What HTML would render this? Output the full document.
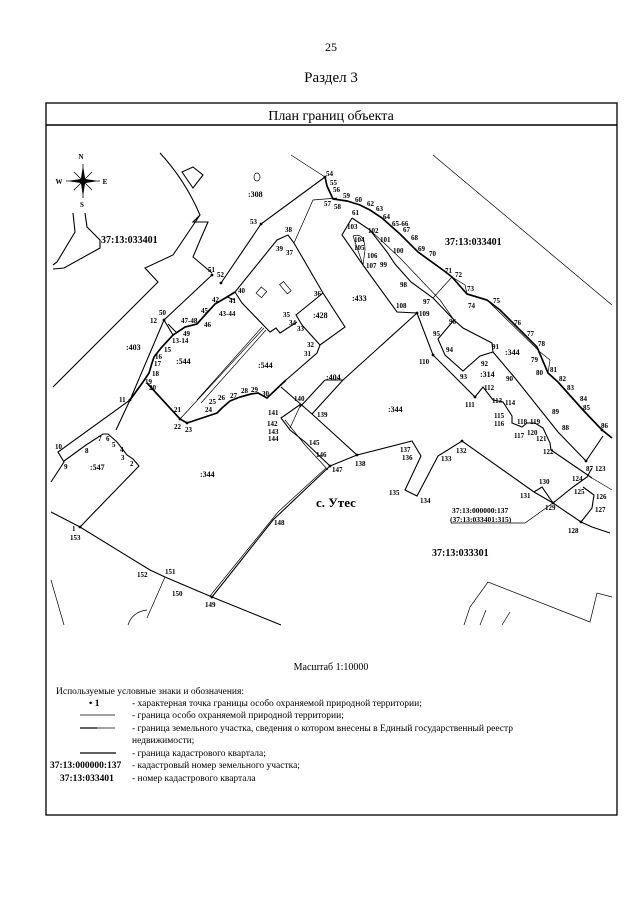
<!DOCTYPE html>
<html><head><meta charset="utf-8"><style>
html,body{margin:0;padding:0;background:#fff;}
svg{display:block;}
text{font-family:"Liberation Serif",serif;fill:#000;}
.p{font-size:7px;font-weight:bold;}
.l{font-size:8px;font-weight:bold;}
.t{stroke:#000;stroke-width:1.7;fill:none;}
.m{stroke:#000;stroke-width:1.1;fill:none;}
.n{stroke:#000;stroke-width:0.7;fill:none;}
</style></head><body>
<svg width="640" height="905" viewBox="0 0 640 905" xmlns="http://www.w3.org/2000/svg">
<text x="331" y="51" font-size="12" text-anchor="middle">25</text>
<text x="331" y="82" font-size="15" text-anchor="middle">Раздел 3</text>
<rect x="46" y="103" width="571" height="712" fill="none" stroke="#000" stroke-width="1.3"/>
<line x1="46" y1="125" x2="617" y2="125" stroke="#000" stroke-width="1.5"/>
<text x="331" y="120" font-size="14" text-anchor="middle">План границ объекта</text>

<!-- compass -->
<g stroke="#000" stroke-width="0.8">
<line x1="83" y1="164" x2="83" y2="198"/><line x1="66" y1="181" x2="100" y2="181"/>
<line x1="74" y1="172" x2="92" y2="190"/><line x1="92" y1="172" x2="74" y2="190"/>
<polygon points="83,168 85,181 83,194 81,181" fill="#000"/>
<polygon points="70,181 83,179 96,181 83,183" fill="#000"/>
</g>
<text x="81" y="159" font-size="7" font-weight="bold" text-anchor="middle">N</text>
<text x="59" y="184" font-size="7" font-weight="bold" text-anchor="middle">W</text>
<text x="105" y="184" font-size="7" font-weight="bold" text-anchor="middle">E</text>
<text x="82" y="207" font-size="7" font-weight="bold" text-anchor="middle">S</text>

<!-- left river -->
<path class="m" d="M73,213 L75,232 L57,262 L53,265 M85,213 L87,227 L100,240 L100,248 L64,268 L53,269"/>
<!-- river boundary top-left -->
<path class="m" d="M160,153 Q185,180 200,215 L193,222 L208,222 Q200,240 193,257 L212,273 M200,215 L173,255 L145,268 L158,282 L53,387"/>
<polygon class="m" points="182,172 193,167 203,175 193,188"/>
<ellipse cx="257" cy="177" rx="3" ry="4" class="n"/>
<!-- 54 to upper left -->
<path class="n" d="M291,155 L325,177"/>
<!-- 50-51 -->
<path class="m" d="M164,320 L212,275 M221,283 L261,224 L325,177"/>
<!-- 12 to 11 and left -->
<path class="m" d="M164,320 L130,400 L58,452 L64,462 L51,482 M130,400 L116,430"/>
<path class="m" d="M164,320 L173,335 M168,324 L176,332"/>
<!-- zone boundary west part -->
<path class="t" d="M235,292 L227,297 L215,304 L205,315 L197,324 L185,327 L173,335 L161,348 L154,357 L152,363 L149,373 L143,382 L130,400"/>
<path class="t" d="M147,383 L180,419 L187,423 L217,413 L222,408 L230,401 L240,397 L251,394 L258,393 L267,398 L286,380"/>
<path class="m" d="M235,292 L277,240 L288,235 L294,243 L323,293 L345,327 L320,345 L302,325 L296,315 L323,293"/>
<path class="m" d="M235,292 L242,303 L270,332 L276,328 L280,333 L297,322 M227,297 L235,300"/>
<path class="m" d="M320,345 L317,353 L286,380"/>
<path class="n" d="M262,327 L197,400 M266,330 L201,403 M264,328 L180,419"/>
<rect x="258" y="288" width="7" height="8" transform="rotate(40 261 292)" class="n"/>
<rect x="283" y="282" width="5" height="12" transform="rotate(-40 285 288)" class="n"/>
<!-- :308 parcel -->
<path class="n" d="M337,198 L313,200 L294,243"/>
<!-- zone boundary east -->
<path class="t" d="M325,177 L327,186 L333,199 L347,201 L360,205 L370,210 L382,218 L400,234 L418,252 L443,270 L452,277 L467,294 L487,300 L500,310 L513,323 L537,347 L548,373 L558,382 L583,410 L602,430 L612,438"/>
<path class="n" d="M452,277 L465,285 L467,294 M487,300 L540,352 L550,360 L548,373"/>
<path class="n" d="M433,155 L612,305"/>
<!-- 433 and inner -->
<path class="m" d="M352,218 L342,235 L363,265 L397,312 L417,313 L433,355 L475,397 L483,387 L493,400 L503,402 L512,416 L512,423 L522,427 L527,423 L535,423 L543,428 L550,443 L551,450 L592,478"/>
<path class="m" d="M352,218 L370,230 L387,252 L395,264 L411,282 L433,298 L454,320 L463,328 L492,343 L493,352 L515,378 L558,432 L586,461 L603,436"/>
<path class="n" d="M353,236 L363,265 M353,236 Q365,232 365,250 L363,265 M370,230 L400,258 L440,300 L454,320"/>
<path class="n" d="M433,298 L452,277"/>
<path class="m" d="M454,320 L438,339 L445,355 L463,371 L480,356 L493,352"/>
<path class="m" d="M417,313 L343,380 L312,414"/>
<path class="m" d="M325,380 L343,380 M325,380 L300,407"/>
<!-- 344 center boundaries -->
<path class="m" d="M281,387 L312,414 L357,455 L412,441 L421,456 L405,490 L417,496 L438,456 L462,441 L534,492 L553,503 L581,522 L592,527 L610,533"/>
<path class="m" d="M553,503 L542,487 L534,492 M553,503 L573,487 L587,477 L592,468 M583,487 L594,495 L592,508 L581,522"/>
<path class="n" d="M553,503 L525,523 L451,523 M592,478 L612,490"/>
<path class="m" d="M301,404 L281,418 L290,430 L305,442 L330,466 L357,455"/>
<path class="n" d="M301,404 L290,428 M285,420 L305,445 L328,470"/>
<path class="m" d="M330,466 L273,520 L212,597"/>
<path class="n" d="M326,468 L278,512 L210,596"/>
<!-- parcel 547 -->
<path class="m" d="M64,461 L86,445 L103,434 L108,434 L117,442 L127,455 L133,459 L139,466 L80,527"/>
<!-- bottom line -->
<path class="m" d="M51,512 L80,527 L150,570 L165,577 L179,583 L212,597 L281,625"/>
<path class="n" d="M165,577 L147,618 M51,580 L64,625 M128,625 Q132,612 147,610"/>
<path class="n" d="M464,625 L470,607 L488,582 L590,622 L597,593 L612,597 M480,625 L486,610 M502,625 L510,612"/>

<!-- points -->
<g fill="#000">
<circle cx="325" cy="177" r="1.4"/><circle cx="261" cy="224" r="1.4"/><circle cx="212" cy="275" r="1.4"/><circle cx="221" cy="283" r="1.4"/>
<circle cx="164" cy="320" r="1.4"/><circle cx="130" cy="400" r="1.4"/><circle cx="180" cy="419" r="1.4"/><circle cx="187" cy="423" r="1.4"/>
<circle cx="357" cy="455" r="1.4"/><circle cx="330" cy="466" r="1.4"/><circle cx="212" cy="597" r="1.4"/><circle cx="80" cy="527" r="1.4"/>
<circle cx="417" cy="313" r="1.4"/><circle cx="433" cy="355" r="1.4"/><circle cx="475" cy="397" r="1.4"/><circle cx="602" cy="430" r="1.4"/>
<circle cx="586" cy="461" r="1.4"/><circle cx="553" cy="503" r="1.4"/><circle cx="581" cy="522" r="1.4"/><circle cx="462" cy="441" r="1.4"/>
</g>

<!-- point labels -->
<g class="p">
<text x="326" y="176">54</text><text x="330" y="185">55</text><text x="333" y="192">56</text><text x="324" y="206">57</text><text x="334" y="209">58</text>
<text x="343" y="198">59</text><text x="355" y="202">60</text><text x="367" y="206">62</text><text x="376" y="211">63</text><text x="352" y="215">61</text>
<text x="383" y="219">64</text><text x="392" y="226">65-66</text><text x="403" y="232">67</text><text x="411" y="240">68</text><text x="418" y="251">69</text><text x="429" y="256">70</text>
<text x="445" y="273">71</text><text x="455" y="277">72</text><text x="467" y="291">73</text><text x="468" y="308">74</text><text x="493" y="303">75</text>
<text x="514" y="325">76</text><text x="527" y="336">77</text><text x="538" y="346">78</text><text x="531" y="362">79</text><text x="536" y="375">80</text>
<text x="550" y="372">81</text><text x="559" y="381">82</text><text x="567" y="390">83</text><text x="580" y="401">84</text><text x="583" y="410">85</text>
<text x="601" y="428">86</text><text x="586" y="471">87</text><text x="562" y="430">88</text><text x="552" y="414">89</text><text x="506" y="381">90</text>
<text x="492" y="349">91</text><text x="481" y="366">92</text><text x="460" y="379">93</text><text x="446" y="352">94</text><text x="433" y="336">95</text>
<text x="449" y="324">96</text><text x="423" y="304">97</text><text x="400" y="287">98</text><text x="380" y="267">99</text><text x="393" y="253">100</text>
<text x="380" y="242">101</text><text x="368" y="233">102</text><text x="347" y="229">103</text><text x="354" y="242">104</text><text x="354" y="250">105</text>
<text x="367" y="258">106</text><text x="366" y="268">107</text><text x="396" y="308">108</text><text x="419" y="316">109</text><text x="419" y="364">110</text>
<text x="465" y="407">111</text><text x="484" y="390">112</text><text x="492" y="403">113</text><text x="505" y="405">114</text><text x="494" y="418">115</text>
<text x="494" y="426">116</text><text x="514" y="438">117</text><text x="517" y="424">118</text><text x="530" y="424">119</text><text x="527" y="435">120</text>
<text x="536" y="441">121</text><text x="543" y="454">122</text><text x="595" y="471">123</text><text x="572" y="481">124</text><text x="574" y="494">125</text>
<text x="596" y="499">126</text><text x="595" y="512">127</text><text x="568" y="533">128</text><text x="545" y="510">129</text><text x="539" y="484">130</text>
<text x="520" y="498">131</text><text x="456" y="453">132</text><text x="441" y="461">133</text><text x="420" y="503">134</text><text x="389" y="495">135</text>
<text x="402" y="460">136</text><text x="400" y="452">137</text><text x="355" y="466">138</text><text x="317" y="417">139</text><text x="294" y="401">140</text>
<text x="268" y="415">141</text><text x="267" y="426">142</text><text x="268" y="434">143</text><text x="268" y="441">144</text><text x="309" y="445">145</text>
<text x="316" y="457">146</text><text x="332" y="472">147</text><text x="274" y="525">148</text><text x="205" y="607">149</text><text x="172" y="596">150</text>
<text x="165" y="574">151</text><text x="137" y="577">152</text><text x="70" y="540">153</text><text x="72" y="531">1</text>
<text x="130" y="466">2</text><text x="121" y="460">3</text><text x="120" y="452">4</text><text x="112" y="447">5</text><text x="106" y="441">6</text><text x="98" y="441">7</text>
<text x="85" y="453">8</text><text x="64" y="469">9</text><text x="55" y="449">10</text><text x="119" y="402">11</text><text x="150" y="323">12</text>
<text x="172" y="343">13-14</text><text x="164" y="352">15</text><text x="155" y="359">16</text><text x="154" y="366">17</text><text x="152" y="376">18</text>
<text x="145" y="384">19</text><text x="149" y="390">20</text><text x="174" y="412">21</text><text x="174" y="429">22</text><text x="185" y="432">23</text>
<text x="205" y="412">24</text><text x="209" y="404">25</text><text x="218" y="400">26</text><text x="230" y="398">27</text><text x="241" y="393">28</text>
<text x="251" y="392">29</text><text x="262" y="396">30</text><text x="304" y="356">31</text><text x="307" y="347">32</text><text x="297" y="331">33</text>
<text x="289" y="325">34</text><text x="283" y="317">35</text><text x="314" y="296">36</text><text x="286" y="255">37</text><text x="285" y="232">38</text>
<text x="276" y="251">39</text><text x="238" y="293">40</text><text x="229" y="303">41</text><text x="212" y="302">42</text><text x="219" y="316">43-44</text>
<text x="201" y="313">45</text><text x="204" y="327">46</text><text x="181" y="323">47-48</text><text x="183" y="336">49</text><text x="159" y="315">50</text>
<text x="208" y="272">51</text><text x="217" y="277">52</text><text x="250" y="224">53</text>
</g>
<!-- parcel labels -->
<g class="l" font-weight="normal">
<text x="248" y="197">:308</text><text x="126" y="350">:403</text><text x="176" y="364">:544</text><text x="258" y="368">:544</text>
<text x="313" y="318">:428</text><text x="326" y="380">:404</text><text x="352" y="301">:433</text><text x="388" y="412">:344</text>
<text x="505" y="355">:344</text><text x="480" y="377">:314</text><text x="200" y="477">:344</text><text x="90" y="470">:547</text>
</g>
<text x="101" y="243" font-size="10" font-weight="bold">37:13:033401</text>
<text x="445" y="245" font-size="10" font-weight="bold">37:13:033401</text>
<text x="432" y="556" font-size="10" font-weight="bold">37:13:033301</text>
<text x="316" y="507" font-size="13" font-weight="bold">с. Утес</text>
<text x="452" y="513" font-size="7.5" font-weight="bold">37:13:000000:137</text>
<text x="450" y="522" font-size="7.5" font-weight="bold">(37:13:033401:315)</text>

<!-- legend -->
<text x="331" y="670" font-size="10" text-anchor="middle">Масштаб 1:10000</text>
<g font-size="9.5">
<text x="56" y="694">Используемые условные знаки и обозначения:</text>
<text x="89" y="706" font-weight="bold">• 1</text>
<text x="132" y="706">- характерная точка границы особо охраняемой природной территории;</text>
<text x="132" y="718">- граница особо охраняемой природной территории;</text>
<text x="132" y="731">- граница земельного участка, сведения о котором внесены в Единый государственный реестр</text>
<text x="132" y="743">недвижимости;</text>
<text x="132" y="756">- граница кадастрового квартала;</text>
<text x="132" y="768">- кадастровый номер земельного участка;</text>
<text x="132" y="781">- номер кадастрового квартала</text>
<text x="50" y="768" font-weight="bold">37:13:000000:137</text>
<text x="60" y="781" font-weight="bold">37:13:033401</text>
</g>
<line x1="80" y1="715" x2="115" y2="715" stroke="#000" stroke-width="0.7"/>
<line x1="80" y1="728" x2="97" y2="728" stroke="#000" stroke-width="1.3"/>
<line x1="97" y1="728" x2="115" y2="728" stroke="#000" stroke-width="0.7"/>
<line x1="80" y1="753" x2="116" y2="753" stroke="#000" stroke-width="1.3"/>
</svg>
</body></html>
